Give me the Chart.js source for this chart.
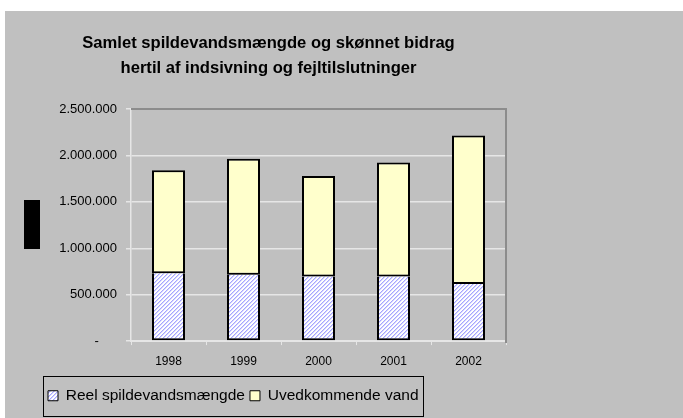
<!DOCTYPE html>
<html>
<head>
<meta charset="utf-8">
<script src="https://cdn.jsdelivr.net/npm/chart.js@4/dist/chart.umd.min.js"></script>
<style>
  html, body { margin: 0; padding: 0; background: #ffffff; width: 683px; height: 418px; overflow: hidden; }
  #wrap { position: absolute; left: 5px; top: 11px; width: 678px; height: 407px; background: #c0c0c0; }
  canvas { display: block; }
</style>
</head>
<body>
<div id="wrap"><canvas id="c" width="678" height="407"></canvas></div>
<script>
// ---- data ----
const categories = ['1998', '1999', '2000', '2001', '2002'];
const reelSpildevand = [731000, 714000, 696000, 696000, 616000];
const uvedkommendeVand = [1109000, 1250000, 1083000, 1228000, 1598000];
const seriesNames = ['Reel spildevandsmængde', 'Uvedkommende vand'];
const titleLines = ['Samlet spildevandsmængde og skønnet bidrag', 'hertil af indsivning og fejltilslutninger'];
const yTickValues = [0, 500000, 1000000, 1500000, 2000000, 2500000];

const SANS = "'Liberation Sans', Arial, sans-serif";

function fmtDK(v) {
  if (v === 0) return '-\u00a0\u00a0\u00a0\u00a0\u00a0';
  return String(v).replace(/\B(?=(\d{3})+(?!\d))/g, '.');
}

function makeHatch() {
  const c = document.createElement('canvas');
  c.width = 4; c.height = 4;
  const x = c.getContext('2d');
  const img = x.createImageData(4, 4);
  for (let py = 0; py < 4; py++) {
    for (let px = 0; px < 4; px++) {
      const k = (px + py) % 4;
      const i = (py * 4 + px) * 4;
      let r = 0xff, g = 0xff, b = 0xff;
      if (k === 0) { r = 0xa6; g = 0xa6; }
      else if (k === 1) { r = 0xd6; g = 0xd6; }
      img.data[i] = r; img.data[i + 1] = g; img.data[i + 2] = b; img.data[i + 3] = 255;
    }
  }
  x.putImageData(img, 0, 0);
  return document.getElementById('c').getContext('2d').createPattern(c, 'repeat');
}
const hatch = makeHatch();

const framePlugin = {
  id: 'frame',
  afterLayout(chart) {
    const lg = chart.legend;
    if (lg) {
      const w = lg.right - lg.left;
      const h = lg.bottom - lg.top;
      lg.left = 38;
      lg.right = lg.left + w;
      lg.top = 372;
      lg.bottom = lg.top + h;
    }
  },
  afterDraw(chart) {
    const ctx = chart.ctx;
    const a = chart.chartArea;
    ctx.save();
    // top and right plot border
    ctx.strokeStyle = '#8c8c8c';
    ctx.lineWidth = 2;
    ctx.beginPath();
    ctx.moveTo(a.left, a.top);
    ctx.lineTo(a.right, a.top);
    ctx.lineTo(a.right, a.bottom + 2);
    ctx.stroke();
    // legend border
    const hb = chart.legend.legendHitBoxes;
    if (hb && hb.length) {
      const l = hb[0].left - 5;
      const last = hb[hb.length - 1];
      const r = last.left + last.width + 5;
      const cy = hb[0].top + hb[0].height / 2;
      ctx.strokeStyle = '#000';
      ctx.lineWidth = 1;
      ctx.strokeRect(Math.round(l) + 0.5, Math.round(cy - 20) + 0.5, Math.round(r - l), 40);
    }
    // garbled rotated axis title block
    ctx.fillStyle = '#000';
    ctx.fillRect(19, 189, 16, 49);
    ctx.restore();
  }
};

new Chart(document.getElementById('c'), {
  type: 'bar',
  data: {
    labels: categories,
    datasets: [
      {
        label: seriesNames[0],
        data: reelSpildevand,
        backgroundColor: hatch,
        borderColor: '#000',
        borderWidth: { top: 0, left: 2, right: 2, bottom: 2 },
        borderSkipped: false,
        barPercentage: 0.44,
        categoryPercentage: 1.0
      },
      {
        label: seriesNames[1],
        data: uvedkommendeVand,
        backgroundColor: '#ffffcc',
        borderColor: '#000',
        borderWidth: 2,
        borderSkipped: false,
        barPercentage: 0.44,
        categoryPercentage: 1.0
      }
    ]
  },
  options: {
    responsive: false,
    animation: false,
    devicePixelRatio: 1,
    layout: { padding: { left: 26, right: 177, top: 0, bottom: 10 } },
    plugins: {
      title: {
        display: true,
        text: titleLines,
        color: '#000',
        font: { family: SANS, size: 16.6, weight: 'bold', lineHeight: 1.506 },
        padding: { top: 19.5, bottom: 28.5 }
      },
      legend: {
        display: true,
        position: 'bottom',
        align: 'start',
        labels: {
          color: '#000',
          font: { family: SANS, size: 15.5 },
          boxWidth: 10,
          boxHeight: 10,
          padding: 5,
          generateLabels(chart) {
            const items = Chart.defaults.plugins.legend.labels.generateLabels(chart);
            items.forEach(it => { it.lineWidth = 1; });
            return items;
          }
        }
      },
      tooltip: { enabled: false }
    },
    scales: {
      x: {
        stacked: true,
        offset: true,
        grid: {
          offset: true,
          drawOnChartArea: false,
          drawTicks: true,
          tickLength: 4,
          color: '#e6e6e6',
          lineWidth: 1
        },
        border: { display: true, color: '#e6e6e6', width: 2 },
        ticks: { color: '#000', font: { family: SANS, size: 12 }, padding: 9, maxRotation: 0 }
      },
      y: {
        stacked: true,
        min: 0,
        max: 2500000,
        afterBuildTicks(scale) { scale.ticks = yTickValues.map(v => ({ value: v })); },
        afterFit(scale) { scale.width = 100; },
        grid: {
          color: '#e6e6e6',
          lineWidth: 1.5,
          tickLength: 5,
          drawTicks: true
        },
        border: { display: true, color: '#e6e6e6', width: 1.5 },
        ticks: {
          color: '#000',
          font: { family: SANS, size: 13 },
          padding: 9,
          callback: (v) => fmtDK(v)
        }
      }
    }
  },
  plugins: [framePlugin]
});
</script>
</body>
</html>
